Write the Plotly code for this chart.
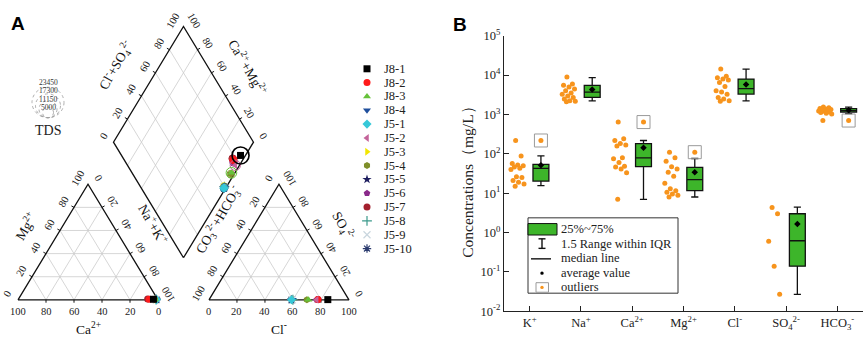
import math
import plotly.graph_objects as go

# ------------------------------------------------------------------
# Panel A data (Piper diagram, milliequivalent %)
# ------------------------------------------------------------------
samples = ["J8-1", "J8-2", "J8-3", "J8-4", "J5-1", "J5-2", "J5-3",
           "J5-4", "J5-5", "J5-6", "J5-7", "J5-8", "J5-9", "J5-10"]
sample_colors = ["#000000", "#ff1a1a", "#66c23a", "#1f4f9c", "#36c8d8", "#c4649a", "#f2e600",
                 "#7f8f2a", "#1c1c5e", "#8a2a8a", "#a3202e", "#3c9a8c", "#c9d6de", "#2b3b6e"]
sample_symbols = ["square", "circle", "triangle-up", "triangle-down", "diamond", "triangle-left",
                  "triangle-right", "hexagon", "star", "pentagon", "circle", "cross-thin",
                  "x-thin", "asterisk"]
ca_pct = [3.0, 6.0, 2.0, 1.0, 1.0, 2.5, 1.5, 2.0, 1.0, 5.0, 7.0, 1.2, 1.4, 0.8]
mg_pct = [0.5, 0.6, 0.5, 0.3, 0.2, 0.5, 0.3, 0.4, 0.3, 0.5, 0.8, 0.3, 0.3, 0.2]
nak_pct = [96.5, 93.4, 97.5, 98.7, 98.8, 97.0, 98.2, 97.6, 98.7, 94.5, 92.2, 98.5, 98.3, 99.0]
hco3_pct = [15.0, 22.0, 29.0, 40.0, 41.0, 23.0, 40.0, 30.0, 41.0, 23.0, 22.0, 40.0, 40.5, 41.0]
so4_pct = [0.2, 0.3, 0.1, 0.1, 0.1, 0.1, 0.1, 0.1, 0.0, 0.1, 0.2, 0.1, 0.1, 0.1]
cl_pct = [84.8, 77.7, 70.9, 59.9, 58.9, 76.9, 59.9, 69.9, 59.0, 76.9, 77.8, 59.9, 59.4, 58.9]
tds_mg_l = [23000, 4500, 9000, 4000, 4000, 8500, 4000, 4500, 4000, 4500, 4500, 4000, 4000, 4000]
tds_legend_vals = ["23450", "17300", "11150", "5000"]
piper_ticks = [0, 20, 40, 60, 80, 100]

# ------------------------------------------------------------------
# Panel B data (mg/L)
# ------------------------------------------------------------------
ion_labels = ["K<sup>+</sup>", "Na<sup>+</sup>", "Ca<sup>2+</sup>", "Mg<sup>2+</sup>",
              "Cl<sup>-</sup>", "SO<sub>4</sub><sup>2-</sup>", "HCO<sub>3</sub><sup>-</sup>"]
box_q1 = [20.3, 2700, 47, 11.6, 3300, 0.14, 1150]
box_med = [42.5, 3700, 79, 22, 4500, 0.62, 1250]
box_q3 = [54, 5500, 182, 45, 7900, 3.0, 1400]
box_low = [15.6, 2200, 7.0, 8.0, 2200, 0.027, 1050]
box_high = [89, 8600, 218, 76, 14200, 4.4, 1540]
box_mean = [51, 4300, 142, 34, 5800, 1.65, 1270]

points_k = [218, 88, 57, 52, 50, 46, 43, 40, 26, 25, 21, 19, 17, 15]
points_na = [8900, 5900, 5500, 5000, 4400, 4000, 3500, 3250, 2950, 2700, 2470, 2240, 2150, 2100]
points_ca = [640, 240, 218, 182, 167, 158, 79, 75, 60, 48, 46, 41, 33, 7]
points_mg = [110, 79, 65, 47, 41, 34, 27, 18, 13, 11.5, 10.5, 9.5, 8.8, 8]
points_cl = [14200, 9300, 8500, 7900, 7500, 6500, 5100, 4000, 3700, 3250, 2700, 2470, 2240, 2150]
points_so4 = [4.3, 3.0, 0.6, 0.14, 0.027]
points_hco3 = [1540, 1480, 1420, 1380, 1330, 1300, 1260, 1230, 1200, 1150, 1120, 1080, 1020, 700]
outlier_ion = [0, 2, 3, 6]
outlier_val = [218, 640, 110, 700]
ytick_exps = [-2, -1, 0, 1, 2, 3, 4, 5]

legend_b_labels = ["25%~75%", "1.5 Range within IQR", "median line", "average value", "outliers"]

# ------------------------------------------------------------------
# Style / geometry
# ------------------------------------------------------------------
W, HT = 865, 345
SERIF = "Liberation Serif, Times New Roman, serif"
GREEN = "#3db52a"
ORANGE = "#f7941d"
GRID = "#cccccc"
DRAW_ORDER = [13, 12, 11, 8, 6, 3, 4, 10, 9, 1, 5, 7, 2, 0]   # stacking of sample markers

SIDE = 100.0
GAP = 36.4
R3 = math.sqrt(3) / 2
PPU = 1.4                 # pixels per Piper unit
X0PX, Y0PX = 18.0, 305.0  # pixel of the cation triangle's left corner


def ux(px):
    return (px - X0PX) / PPU


def uy(py):
    return (Y0PX - py) / PPU


def pfx(px):
    return px / W


def pfy(py):
    return 1 - py / HT


OX = SIDE + GAP
B = (SIDE + GAP / 2, GAP * R3)
DL = (B[0] - SIDE / 2, B[1] + SIDE * R3)
DT = (B[0], B[1] + 2 * SIDE * R3)
DR = (B[0] + SIDE / 2, B[1] + SIDE * R3)
APEX_C = (SIDE / 2, SIDE * R3)
APEX_A = (OX + SIDE / 2, SIDE * R3)


def cat_xy(ca, mg, nak):
    return (nak + mg / 2, mg * R3)


def an_xy(hco3, so4, cl):
    return (OX + cl + so4 / 2, so4 * R3)


def dia_xy(nak, clso4):
    p, q = nak / 100, clso4 / 100
    return (DL[0] + p * (B[0] - DL[0]) + q * (DT[0] - DL[0]),
            DL[1] + p * (B[1] - DL[1]) + q * (DT[1] - DL[1]))


def lerp(a, b, t):
    return (a[0] + (b[0] - a[0]) * t, a[1] + (b[1] - a[1]) * t)


def ptext(px, py, text, size, **kw):
    d = dict(x=pfx(px), y=pfy(py), xref="paper", yref="paper", text=text, showarrow=False,
             xanchor="center", yanchor="middle",
             font=dict(family=kw.pop("family", SERIF), size=size, color=kw.pop("color", "#222")))
    d.update(kw)
    return d


def marker_style(i):
    thin = "thin" in sample_symbols[i] or sample_symbols[i] == "asterisk"
    return dict(symbol=sample_symbols[i], size=7, color=sample_colors[i],
                line=dict(width=1.2 if thin else 0, color=sample_colors[i]))


fig = go.Figure()

# ---- grid lines
gx, gy = [], []


def seg(a, b):
    gx.extend([a[0], b[0], None])
    gy.extend([a[1], b[1], None])


for v in [20, 40, 60, 80]:
    seg(cat_xy(100 - v, v, 0), cat_xy(0, v, 100 - v))
    seg(cat_xy(v, 0, 100 - v), cat_xy(v, 100 - v, 0))
    seg(cat_xy(100 - v, 0, v), cat_xy(0, 100 - v, v))
    seg(an_xy(100 - v, v, 0), an_xy(0, v, 100 - v))
    seg(an_xy(v, 0, 100 - v), an_xy(v, 100 - v, 0))
    seg(an_xy(100 - v, 0, v), an_xy(0, 100 - v, v))
    seg(dia_xy(v, 0), dia_xy(v, 100))
    seg(dia_xy(0, v), dia_xy(100, v))
fig.add_trace(go.Scatter(x=gx, y=gy, mode="lines", line=dict(color=GRID, width=0.8),
                         hoverinfo="skip", showlegend=False))

# ---- outlines
ox_, oy_ = [], []
for poly in [[(0, 0), (SIDE, 0), APEX_C, (0, 0)],
             [(OX, 0), (OX + SIDE, 0), APEX_A, (OX, 0)],
             [B, DR, DT, DL, B]]:
    ox_.extend([p[0] for p in poly] + [None])
    oy_.extend([p[1] for p in poly] + [None])
fig.add_trace(go.Scatter(x=ox_, y=oy_, mode="lines", line=dict(color="#111111", width=1.3),
                         hoverinfo="skip", showlegend=False))

# ---- side ticks and tick labels
sides = [
    ((SIDE, 0), (0, 0), (0, -1), 0),
    ((0, 0), APEX_C, (-R3, 0.5), -60),
    (APEX_C, (SIDE, 0), (R3, 0.5), -120),
    ((OX, 0), (OX + SIDE, 0), (0, -1), 0),
    (APEX_A, (OX, 0), (-R3, 0.5), -60),
    ((OX + SIDE, 0), APEX_A, (R3, 0.5), -120),
    (DL, DT, (-R3, 0.5), -60),
    (DR, DT, (R3, 0.5), 60),
]
tx, ty = [], []
annotations = []
for p0, p1, nrm, ang in sides:
    for v in piper_ticks:
        pt = lerp(p0, p1, v / 100)
        if 0 < v < 100:
            tl = 3.0 / PPU
            tx.extend([pt[0], pt[0] + nrm[0] * tl, None])
            ty.extend([pt[1], pt[1] + nrm[1] * tl, None])
        off = 12
        annotations.append(dict(x=pt[0], y=pt[1], xref="x", yref="y", text=str(v),
                                showarrow=False, textangle=ang, xanchor="center", yanchor="middle",
                                xshift=nrm[0] * off, yshift=nrm[1] * off,
                                font=dict(family=SERIF, size=10.5, color="#222")))
fig.add_trace(go.Scatter(x=tx, y=ty, mode="lines", line=dict(color="#111111", width=1),
                         hoverinfo="skip", showlegend=False))

# ---- axis names
axis_names = [
    (lerp((SIDE, 0), (0, 0), 0.5), (0, -1), 29, 0, "Ca<sup>2+</sup>"),
    (lerp((0, 0), APEX_C, 0.5), (-R3, 0.5), 32, -60, "Mg<sup>2+</sup>"),
    (lerp(APEX_C, (SIDE, 0), 0.5), (R3, 0.5), 35, 60, "Na<sup>+</sup>+K<sup>+</sup>"),
    (lerp((OX, 0), (OX + SIDE, 0), 0.5), (0, -1), 29, 0, "Cl<sup>-</sup>"),
    (lerp(APEX_A, (OX, 0), 0.45), (-R3, 0.5), 33, -60,
     "CO<sub>3</sub><sup>2-</sup>+HCO<sub>3</sub><sup>-</sup>"),
    (lerp((OX + SIDE, 0), APEX_A, 0.5), (R3, 0.5), 33, 60, "SO<sub>4</sub><sup>2-</sup>"),
    (lerp(DL, DT, 0.5), (-R3, 0.5), 37, -60, "Cl<sup>-</sup>+SO<sub>4</sub><sup>2-</sup>"),
    (lerp(DR, DT, 0.5), (R3, 0.5), 34, 60, "Ca<sup>2+</sup>+Mg<sup>2+</sup>"),
]
for pt, nrm, off, ang, txt in axis_names:
    annotations.append(dict(x=pt[0], y=pt[1], xref="x", yref="y", text=txt, showarrow=False,
                            textangle=ang, xanchor="center", yanchor="middle",
                            xshift=nrm[0] * off, yshift=nrm[1] * off,
                            font=dict(family=SERIF, size=13.5, color="#111")))

# ---- samples (markers in the two triangles and the diamond, TDS circles)
for i in DRAW_ORDER:
    c = cat_xy(ca_pct[i], mg_pct[i], nak_pct[i])
    a = an_xy(hco3_pct[i], so4_pct[i], cl_pct[i])
    d = dia_xy(nak_pct[i], cl_pct[i] + so4_pct[i])
    fig.add_trace(go.Scatter(x=[c[0], a[0], d[0]], y=[c[1], a[1], d[1]], mode="markers",
                             marker=marker_style(i), showlegend=False, hoverinfo="skip"))
    fig.add_trace(go.Scatter(x=[d[0]], y=[d[1]], mode="markers",
                             marker=dict(symbol="circle-open", size=17 * math.sqrt(tds_mg_l[i] / 23000),
                                         color=sample_colors[i],
                                         line=dict(width=1.6 if i == 0 else 1, color=sample_colors[i])),
                             showlegend=False, hoverinfo="skip"))

# ---- sample legend
for i, name in enumerate(samples):
    ly = 62.7 + 14.5 * i
    fig.add_trace(go.Scatter(x=[ux(367)], y=[uy(ly)], mode="markers", marker=marker_style(i),
                             showlegend=False, hoverinfo="skip"))
    annotations.append(ptext(382, ly, name, 12.5, xanchor="left"))

# ---- TDS legend
shapes = []
radii = [16, 12.5, 9, 5.5]
bottom_py = 114
for k, (r, lab) in enumerate(zip(radii, tds_legend_vals)):
    cy = uy(bottom_py - r)
    cxu = ux(48)
    ru = r / PPU
    shapes.append(dict(type="circle", xref="x", yref="y", x0=cxu - ru, x1=cxu + ru,
                       y0=cy - ru, y1=cy + ru, line=dict(color="#9a9a9a", width=0.8, dash="dot")))
    annotations.append(ptext(48, 77 + 8.8 * k, lab, 7.5, color="#333"))
annotations.append(ptext(48, 127, "TDS", 14))

# ------------------------------------------------------------------
# Panel B
# ------------------------------------------------------------------
BOX_SHIFT = 0.22
all_points = [points_k, points_na, points_ca, points_mg, points_cl, points_so4, points_hco3]
sx, sy = [], []
for i, vals in enumerate(all_points):
    for k, v in enumerate(vals):
        sx.append(i - 0.1 - 0.28 * (((k + 1) * 0.6180339887) % 1.0))
        sy.append(v)
fig.add_trace(go.Scatter(x=sx, y=sy, mode="markers", xaxis="x2", yaxis="y2",
                         marker=dict(size=5, color=ORANGE), showlegend=False, hoverinfo="skip"))

fig.add_trace(go.Box(x=[i + BOX_SHIFT for i in range(len(ion_labels))],
                     q1=box_q1, median=box_med, q3=box_q3,
                     lowerfence=box_low, upperfence=box_high,
                     width=0.31, whiskerwidth=0.45, fillcolor=GREEN,
                     line=dict(color="#111111", width=1.3), boxpoints=False,
                     xaxis="x2", yaxis="y2", showlegend=False, hoverinfo="skip"))

fig.add_trace(go.Scatter(x=[i + BOX_SHIFT for i in range(len(ion_labels))], y=box_mean,
                         mode="markers", xaxis="x2", yaxis="y2",
                         marker=dict(size=5, color="#000000", symbol="diamond"),
                         showlegend=False, hoverinfo="skip"))

fig.add_trace(go.Scatter(x=[i + BOX_SHIFT for i in outlier_ion], y=outlier_val, mode="markers",
                         xaxis="x2", yaxis="y2",
                         marker=dict(symbol="square-open", size=13, color="#9a9a9a",
                                     line=dict(width=1, color="#9a9a9a")),
                         showlegend=False, hoverinfo="skip"))
fig.add_trace(go.Scatter(x=[i + BOX_SHIFT for i in outlier_ion], y=outlier_val, mode="markers",
                         xaxis="x2", yaxis="y2", marker=dict(size=5, color=ORANGE),
                         showlegend=False, hoverinfo="skip"))

# ---- custom legend for panel B
shapes.append(dict(type="rect", xref="paper", yref="paper", x0=pfx(528), x1=pfx(678),
                   y0=pfy(298), y1=pfy(219), line=dict(color="#333", width=1), fillcolor="white"))
shapes.append(dict(type="rect", xref="paper", yref="paper", x0=pfx(528), x1=pfx(557),
                   y0=pfy(237), y1=pfy(225), line=dict(color="#111", width=1), fillcolor=GREEN))
for (xa, ya, xb, yb) in [(542, 241, 542, 251), (538.5, 241, 545.5, 241), (538.5, 251, 545.5, 251),
                         (531, 262, 551, 262)]:
    shapes.append(dict(type="line", xref="paper", yref="paper", x0=pfx(xa), y0=pfy(ya),
                       x1=pfx(xb), y1=pfy(yb), line=dict(color="#111", width=1.4)))
shapes.append(dict(type="circle", xref="paper", yref="paper", x0=pfx(540.3), x1=pfx(543.7),
                   y0=pfy(278.7), y1=pfy(275.3), line=dict(color="#000", width=0), fillcolor="#000"))
shapes.append(dict(type="rect", xref="paper", yref="paper", x0=pfx(536), x1=pfx(548.5),
                   y0=pfy(297), y1=pfy(287), line=dict(color="#9a9a9a", width=1)))
shapes.append(dict(type="circle", xref="paper", yref="paper", x0=pfx(540.3), x1=pfx(543.7),
                   y0=pfy(293.7), y1=pfy(290.3), line=dict(width=0), fillcolor=ORANGE))
for k, lab in enumerate(legend_b_labels):
    annotations.append(ptext(559, 231 + 15.2 * k, lab, 12.5, xanchor="left"))

# y-axis title and panel letters
annotations.append(ptext(468, 177, "Concentrations（mg/L）", 15.5, textangle=-90))
annotations.append(ptext(18, 15, "<b>A</b>", 19, family="Liberation Sans, Arial", color="#000"))
annotations.append(ptext(460, 16, "<b>B</b>", 19, family="Liberation Sans, Arial", color="#000"))

fig.update_layout(
    width=W, height=HT, margin=dict(l=0, r=0, t=0, b=0),
    paper_bgcolor="white", plot_bgcolor="white", showlegend=False,
    xaxis=dict(domain=[0, 430 / W], range=[ux(0), ux(430)], visible=False, fixedrange=True),
    yaxis=dict(domain=[0, 1], range=[uy(HT), uy(0)], visible=False, fixedrange=True),
    xaxis2=dict(domain=[504 / W, 863 / W], range=[-0.5, len(ion_labels) - 0.5], anchor="y2",
                tickmode="array", tickvals=list(range(len(ion_labels))), ticktext=ion_labels,
                ticks="inside", ticklen=5, tickcolor="#222", showline=True, linecolor="#222",
                linewidth=1.3, showgrid=False, zeroline=False, fixedrange=True,
                tickfont=dict(family=SERIF, size=12.5, color="#222")),
    yaxis2=dict(domain=[pfy(317), pfy(28)], type="log", range=[-2, 5], anchor="x2",
                tickmode="array", tickvals=[10.0 ** e for e in ytick_exps],
                ticktext=["10<sup>%d</sup>" % e for e in ytick_exps],
                ticks="inside", ticklen=5, tickcolor="#222", showline=True, linecolor="#222",
                linewidth=1.3, showgrid=False, zeroline=False, fixedrange=True,
                tickfont=dict(family=SERIF, size=12.5, color="#222")),
    shapes=shapes, annotations=annotations,
)

fig.write_html("out.html", config={"displayModeBar": False},
               post_script="document.body.style.margin='0';")
